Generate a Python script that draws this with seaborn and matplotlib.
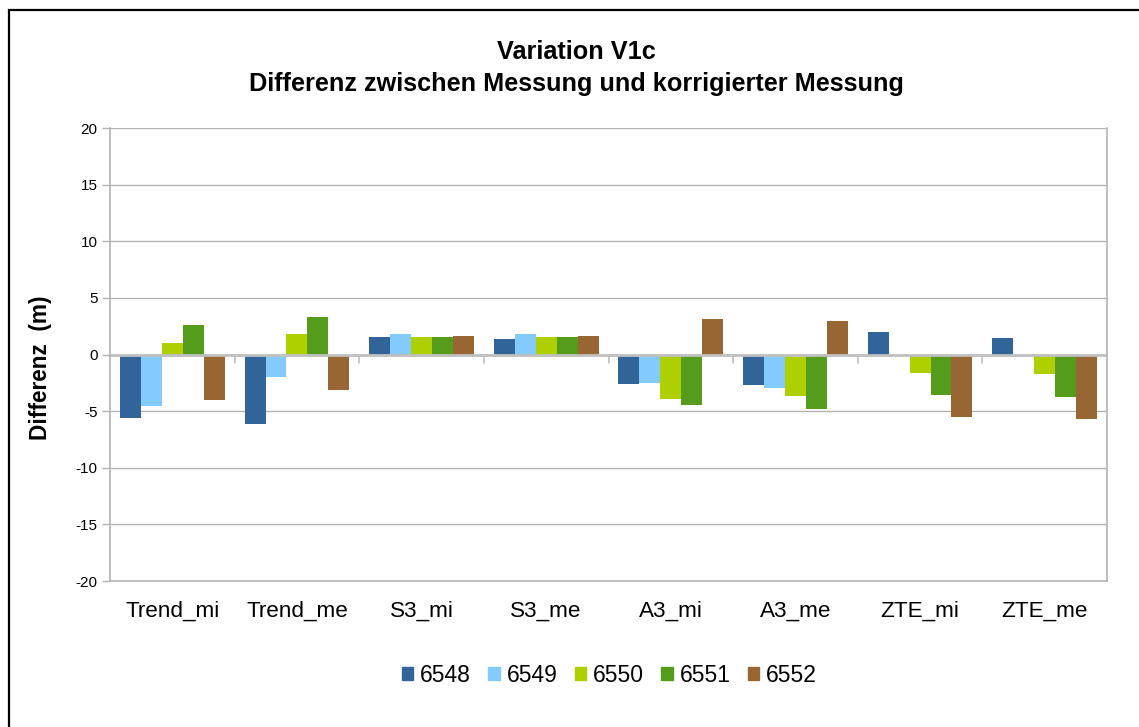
import pandas as pd
import matplotlib.pyplot as plt
import seaborn as sns
from matplotlib.patches import Rectangle

# values (m)
categories = ['Trend_mi', 'Trend_me', 'S3_mi', 'S3_me', 'A3_mi', 'A3_me', 'ZTE_mi', 'ZTE_me']
stations = ['6548', '6549', '6550', '6551', '6552']
v6548 = [-5.64, -6.10, 1.57, 1.39, -2.57, -2.65, 1.95, 1.50]
v6549 = [-4.51, -1.95, 1.83, 1.83, -2.48, -3.00, -0.10, -0.10]
v6550 = [1.06, 1.77, 1.57, 1.57, -3.90, -3.63, -1.60, -1.68]
v6551 = [2.65, 3.27, 1.57, 1.57, -4.42, -4.78, -3.54, -3.72]
v6552 = [-3.98, -3.10, 1.65, 1.65, 3.10, 3.00, -5.49, -5.66]
colors = ['#31659a', '#83caff', '#aed000', '#559c1d', '#986633']

rows = []
for st, vals in zip(stations, [v6548, v6549, v6550, v6551, v6552]):
    for cat, v in zip(categories, vals):
        rows.append({'Kategorie': cat, 'Station': st, 'Differenz': v})
df = pd.DataFrame(rows)

sns.set_style('white')
plt.rcParams['font.family'] = ['Liberation Sans', 'DejaVu Sans']
plt.rcParams['axes.unicode_minus'] = False
plt.rcParams['text.color'] = 'black'
plt.rcParams['xtick.color'] = 'black'
plt.rcParams['ytick.color'] = 'black'
plt.rcParams['axes.labelcolor'] = 'black'

fig = plt.figure(figsize=(11.39, 7.27), dpi=100)
ax = fig.add_axes([0.0966, 0.2008, 0.9719 - 0.0966, 0.8239 - 0.2008])

sns.barplot(data=df, x='Kategorie', y='Differenz', hue='Station', order=categories,
            hue_order=stations, palette=dict(zip(stations, colors)), width=0.84,
            gap=0, linewidth=0, saturation=1, errorbar=None, ax=ax)

grid_c = '#b3b3b3'
ax.set_ylim(-20, 20)
ax.set_xlim(-0.5, len(categories) - 0.5)
ax.set_yticks(range(-20, 21, 5))
ax.yaxis.grid(True, color=grid_c, linewidth=1)
ax.set_axisbelow(True)
for side in ['left', 'right', 'bottom']:
    ax.spines[side].set_color(grid_c)
    ax.spines[side].set_linewidth(1.2)
ax.spines['top'].set_visible(False)

# zero line with category separators
ax.axhline(0, color='#c0c0c0', linewidth=2, zorder=1.5)
sep = [i + 0.5 for i in range(len(categories) - 1)]
trans = ax.get_xaxis_transform()
for x in sep:
    ax.plot([x, x], [0.5, 0.5 - 8 / 453], color='#c0c0c0', linewidth=1.2, transform=trans,
            clip_on=False)
ax.set_xticks(sep, minor=True)
ax.tick_params(axis='x', which='minor', length=8, color=grid_c, width=1, direction='out')
ax.tick_params(axis='x', which='major', length=0, pad=14, labelsize=16.2)
ax.tick_params(axis='y', length=6, color=grid_c, width=1, pad=3, labelsize=11,
               left=True, labelcolor='black')

ax.set_xlabel('')
ax.set_ylabel('Differenz  (m)', fontsize=16.3, fontweight='bold')
ax.yaxis.set_label_coords(-0.058, 0.47)
ax.get_legend().remove()

fig.suptitle('Variation V1c\nDifferenz zwischen Messung und korrigierter Messung',
             x=0.506, y=0.945, fontsize=18.2, fontweight='bold', linespacing=1.4,
             color='black')

handles = [Rectangle((0, 0), 1, 1, color=c) for c in colors]
fig.legend(handles, stations, loc='center', bbox_to_anchor=(0.535, 0.071), ncol=5,
           frameon=False, fontsize=16.5, handlelength=0.5, handleheight=0.5,
           handletextpad=0.3, columnspacing=0.75)

# outer chart frame
fig.patches.append(Rectangle((9 / 1139, -0.05), 1.1, 1.05 - 10 / 727,
                             transform=fig.transFigure, fill=False, edgecolor='black',
                             linewidth=1.6))

fig.savefig('out.png', dpi=100)
